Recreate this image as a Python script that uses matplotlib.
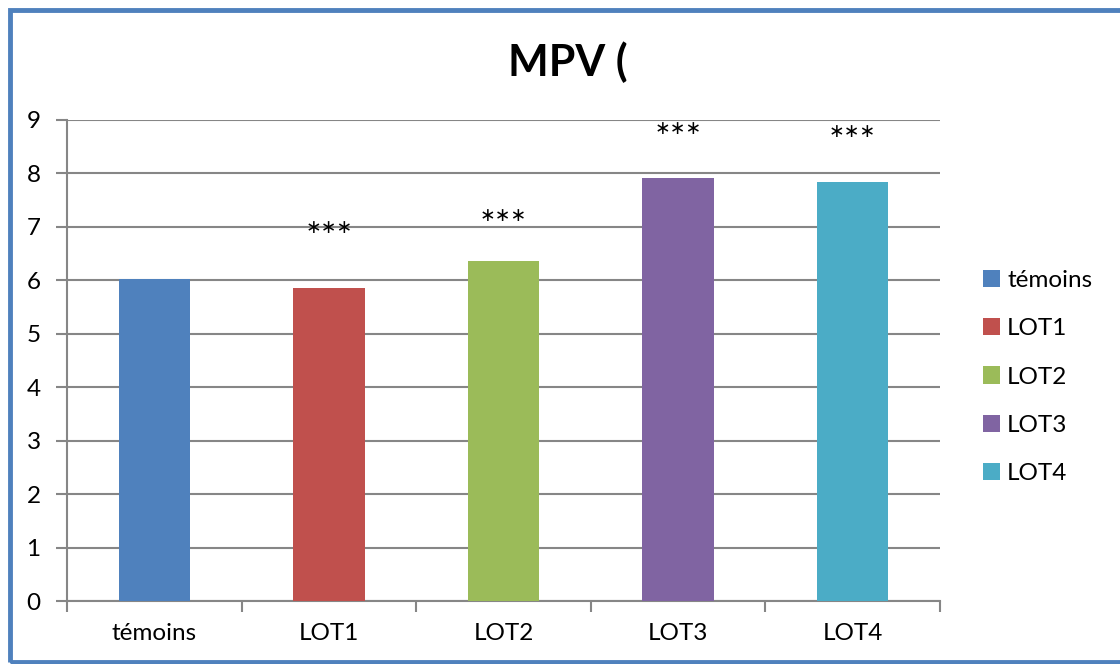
import matplotlib
matplotlib.use("Agg")
import matplotlib.pyplot as plt
from matplotlib.patches import Rectangle, Patch

plt.rcParams['font.family'] = ['Lato', 'DejaVu Sans']

groups = ['témoins', 'LOT1', 'LOT2', 'LOT3', 'LOT4']
mpv = [6.03, 5.86, 6.37, 7.92, 7.84]
colors = ['#4F81BD', '#C0504D', '#9BBB59', '#8064A2', '#4BACC6']
# significance marks and the height they sit at
stars = ['', '∗∗∗', '∗∗∗', '∗∗∗', '∗∗∗']
star_y = [0, 6.98, 7.22, 8.85, 8.78]

fig = plt.figure(figsize=(11.2, 6.64), dpi=100)
ax = fig.add_axes([67 / 1120, 1 - 601 / 664, 873 / 1120, 481 / 664])

x = range(len(groups))
ax.bar(x, mpv, width=0.41, color=colors, zorder=3)
for i, s in enumerate(stars):
    if s:
        ax.text(i, star_y[i], s, ha='center', va='center', fontsize=13.5,
                family='DejaVu Sans', zorder=4)

ax.set_xlim(-0.5, len(groups) - 0.5)
ax.set_ylim(0, 9)
ax.set_yticks(range(10))
ax.set_xticks(list(x))
ax.set_xticklabels(groups)
ax.set_xticks([i - 0.5 for i in range(len(groups) + 1)], minor=True)
ax.tick_params(axis='x', which='major', length=0, pad=16, labelsize=17.5)
ax.tick_params(axis='x', which='minor', length=8, width=1.5, color='#868686', direction='out')
ax.tick_params(axis='y', length=8, width=1.5, color='#868686', labelsize=17.5, pad=11)
ax.grid(axis='y', color='#868686', linewidth=1.5, zorder=0)
for side in ['top', 'right']:
    ax.spines[side].set_visible(False)
for side in ['left', 'bottom']:
    ax.spines[side].set_color('#868686')
    ax.spines[side].set_linewidth(1.5)

handles = [Patch(facecolor=c, label=g) for g, c in zip(groups, colors)]
fig.legend(handles=handles, loc='center left', bbox_to_anchor=(961 / 1120, 1 - 377 / 664),
           frameon=False, fontsize=17.5, handlelength=0.7, handleheight=0.7,
           handletextpad=0.3, labelspacing=1.12)

fig.text(568 / 1120, 1 - 62 / 664, 'MPV (', ha='center', va='center',
         fontsize=31, fontweight='bold')

# chart frame
fig.patches.append(Rectangle((10 / 1120, 2 / 664), 1.1, 1 - 12 / 664,
                             transform=fig.transFigure, fill=False,
                             edgecolor='#4F81BD', linewidth=3.5))

fig.savefig('out.png', dpi=100)
